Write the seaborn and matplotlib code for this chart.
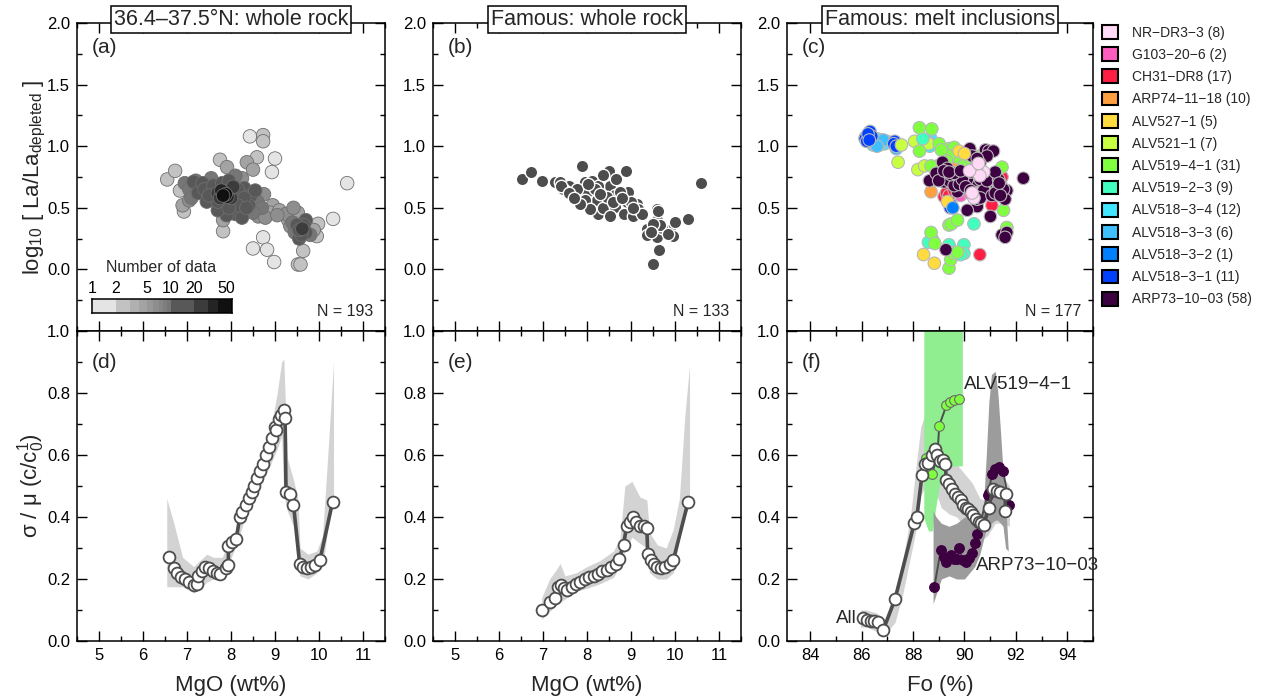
import matplotlib
matplotlib.use("Agg")
import numpy as np
import pandas as pd
import matplotlib.pyplot as plt
import seaborn as sns
from matplotlib.ticker import MultipleLocator, FixedLocator, FixedFormatter, NullFormatter
from matplotlib.patches import Patch
from matplotlib.colors import ListedColormap

# ---------------- (a) 36.4-37.5N whole rock ----------------
a_mgo = [8.43, 9.00, 8.93, 10.64, 10.32, 8.73, 8.50, 8.82, 8.98,
         8.73, 8.73, 7.75, 8.59, 6.55, 6.73, 6.84, 7.82, 9.98, 9.64, 9.52, 9.58, 6.93, 9.95,
         7.91, 8.36, 7.82, 8.50, 6.90, 8.95, 8.90, 9.30, 9.52, 9.88, 9.10,
         8.25, 7.05, 8.75, 8.62, 8.78, 9.25, 9.42, 9.35, 9.05,
         6.95, 7.05, 7.10, 8.10, 8.60, 8.70, 8.50, 9.45, 9.80, 9.40, 7.55, 7.20,
         7.15, 7.25, 7.35, 7.45, 8.30, 8.45, 8.40, 8.10, 7.90, 8.25, 9.60, 9.70, 9.55, 7.70, 8.55,
         7.40, 7.60, 7.80, 7.95, 8.15, 8.30, 8.15, 7.95, 7.70, 7.50, 9.65, 9.50, 9.70, 8.35, 9.60, 9.55,
         7.70, 7.85, 8.00, 7.95, 7.75, 9.62, 8.05,
         7.85, 7.92, 7.78,
         7.88, 7.82]
a_la = [1.08, 0.90, 0.79, 0.70, 0.41, 0.26, 0.17, 0.16, 0.06,
        1.09, 1.04, 0.89, 0.91, 0.73, 0.80, 0.64, 0.31, 0.37, 0.15, 0.04, 0.04, 0.47, 0.27,
        0.83, 0.87, 0.40, 0.81, 0.52, 0.52, 0.46, 0.40, 0.46, 0.32, 0.48,
        0.74, 0.56, 0.61, 0.43, 0.42, 0.45, 0.50, 0.35, 0.44,
        0.70, 0.65, 0.58, 0.76, 0.55, 0.50, 0.46, 0.30, 0.28, 0.38, 0.74, 0.72,
        0.71, 0.62, 0.70, 0.55, 0.66, 0.60, 0.52, 0.45, 0.44, 0.42, 0.34, 0.40, 0.25, 0.48, 0.64,
        0.65, 0.68, 0.70, 0.72, 0.65, 0.58, 0.52, 0.50, 0.55, 0.60, 0.36, 0.36, 0.30, 0.50, 0.28, 0.32,
        0.62, 0.60, 0.58, 0.64, 0.58, 0.33, 0.67,
        0.62, 0.59, 0.64,
        0.61, 0.60]
a_count = [1] * 9 + [2] * 14 + [4] * 11 + [6] * 9 + [9] * 12 + [12] * 15 + [18] * 16 + [25] * 7 + [32] * 3 + [45] * 2

count_bounds = [1, 2, 3, 4, 5, 6, 7, 8, 9, 10, 20, 30, 40, 60]
count_grays = ['#e4e4e4', '#c2c2c2', '#b0b0b0', '#a3a3a3', '#989898', '#8e8e8e', '#868686',
               '#7e7e7e', '#767676', '#585858', '#3c3c3c', '#242424', '#101010']
cbar_ticks = [1, 2, 5, 10, 20, 50]
cbar_minor = [3, 4, 6, 7, 8, 9, 30, 40]

# ---------------- (b) Famous whole rock ----------------
b_mgo = [6.52, 6.73, 6.98, 7.27, 7.39, 7.88, 7.58, 7.54, 7.65, 7.80, 7.95, 7.99, 8.11, 8.22, 8.26,
         8.37, 8.49, 8.52, 8.64, 8.67, 8.64, 8.52, 8.89, 8.94, 8.90, 8.83, 9.05, 9.13, 9.17, 9.24,
         8.26, 7.95, 8.07, 7.77, 7.46, 7.42, 7.83, 8.37, 8.18, 8.45, 8.75, 8.99, 7.60, 7.70, 8.02,
         8.30, 8.58, 8.80, 9.05,
         9.58, 9.58, 9.36, 9.36, 9.55, 9.58, 9.77, 9.89, 9.96, 10.00, 10.30, 9.64, 9.47, 9.51, 9.70,
         9.65, 9.50, 10.59, 9.45, 9.62, 9.85]
b_la = [0.73, 0.79, 0.72, 0.71, 0.71, 0.84, 0.68, 0.63, 0.60, 0.58, 0.71, 0.63, 0.72, 0.56, 0.45,
        0.50, 0.80, 0.68, 0.60, 0.73, 0.51, 0.43, 0.80, 0.63, 0.55, 0.45, 0.43, 0.53, 0.49, 0.45,
        0.68, 0.56, 0.49, 0.65, 0.65, 0.68, 0.53, 0.77, 0.65, 0.59, 0.63, 0.55, 0.62, 0.58, 0.69,
        0.61, 0.55, 0.58, 0.50,
        0.49, 0.40, 0.33, 0.28, 0.32, 0.26, 0.33, 0.32, 0.27, 0.385, 0.41, 0.16, 0.04, 0.04, 0.34,
        0.36, 0.37, 0.70, 0.30, 0.47, 0.29]

# ---------------- (c) Famous melt inclusions ----------------
legend_samples = ["NR−DR3−3", "G103−20−6", "CH31−DR8", "ARP74−11−18", "ALV527−1", "ALV521−1",
                  "ALV519−4−1", "ALV519−2−3", "ALV518−3−4", "ALV518−3−3", "ALV518−3−2",
                  "ALV518−3−1", "ARP73−10−03"]
legend_counts = [8, 2, 17, 10, 5, 7, 31, 9, 12, 6, 1, 11, 58]
legend_colors = ["#ffd9f5", "#ff5cbf", "#ff1f45", "#ffa040", "#ffdb40", "#c8ff40", "#80ff40",
                 "#40ffbf", "#40e6ff", "#40bfff", "#0080ff", "#0040ff", "#3d0040"]

fo_nr = [90.43, 90.75, 90.37, 90.50, 90.60, 90.20, 90.30, 90.55]
la_nr = [0.81, 0.79, 0.58, 0.84, 0.76, 0.80, 0.62, 0.86]
fo_g103 = [89.85, 90.20]
la_g103 = [0.60, 0.62]
fo_ch31 = [89.21, 91.07, 91.46, 90.60, 89.30, 90.90, 91.30, 90.40, 89.40, 91.20, 90.00, 89.60,
           90.70, 91.40, 89.90, 90.20, 91.10]
la_ch31 = [0.59, 0.52, 0.75, 0.12, 0.62, 0.73, 0.72, 0.80, 0.60, 0.78, 0.66, 0.64,
           0.70, 0.70, 0.75, 0.68, 0.62]
fo_arp74 = [88.70, 89.85, 89.98, 89.70, 90.10, 89.90, 90.20, 89.80, 90.00, 89.60]
la_arp74 = [0.63, 0.87, 0.92, 0.90, 0.85, 0.83, 0.90, 0.95, 0.80, 0.86]
fo_alv527 = [89.79, 89.34, 88.41, 88.83, 90.00]
la_alv527 = [0.96, 0.55, 0.12, 0.05, 0.94]
fo_alv521 = [87.55, 87.42, 88.19, 88.06, 88.45, 88.60, 89.00]
la_alv521 = [1.01, 0.87, 0.81, 1.04, 0.84, 1.02, 0.80]
fo_alv5194 = [88.25, 88.73, 88.25, 89.02, 89.40, 89.47, 89.60, 89.73, 88.96, 89.40, 91.46, 88.70,
              88.85, 89.40, 89.50, 89.73, 91.52, 91.65, 89.40, 89.47, 89.60, 89.73, 88.70, 89.20,
              89.30, 90.10, 90.60, 89.98, 89.35, 89.10, 90.25]
la_alv5194 = [1.15, 1.14, 0.96, 1.02, 0.98, 0.95, 0.99, 0.91, 0.84, 0.92, 0.83, 0.30,
              0.21, 0.36, 0.37, 0.40, 0.48, 0.34, 0.01, 0.08, 0.13, 0.14, 0.84, 0.82,
              0.88, 0.73, 0.92, 0.84, 0.75, 0.97, 0.90]
fo_alv5192 = [88.38, 88.76, 89.40, 89.98, 89.98, 89.60, 90.37, 88.60, 89.85]
la_alv5192 = [1.06, 0.24, 0.20, 0.20, 0.13, 0.14, 0.37, 0.22, 0.12]
fo_alv5184 = [86.14, 86.33, 86.52, 86.78, 86.97, 86.60, 86.45, 88.50, 88.70, 86.90, 86.70, 88.65]
la_alv5184 = [1.07, 1.05, 1.03, 1.05, 1.04, 1.06, 1.01, 1.04, 1.06, 1.02, 1.01, 1.00]
fo_alv5183 = [86.20, 86.50, 86.85, 87.35, 88.60, 86.60]
la_alv5183 = [1.04, 1.02, 1.05, 0.98, 1.03, 1.00]
fo_alv5182 = [89.55]
la_alv5182 = [0.50]
fo_alv5181 = [86.33, 86.14, 86.20, 87.29, 87.25, 86.40, 86.25, 87.35, 89.50, 89.45, 86.30]
la_alv5181 = [1.12, 1.06, 1.04, 1.04, 1.02, 1.08, 1.10, 1.00, 0.52, 0.50, 1.05]
fo_arp73 = [90.21, 90.82, 90.95, 92.29, 88.64, 89.08, 89.15, 89.21, 89.40, 89.73,
            90.37, 90.62, 91.26, 91.65, 91.58, 91.01, 90.50, 90.11, 91.46, 91.65,
            89.28, 90.11, 90.50, 90.75, 91.13, 91.33, 91.52, 91.58, 89.73, 89.60,
            89.47, 89.34, 90.24, 91.13, 90.88, 90.40, 90.60, 88.90, 89.00, 89.80,
            89.92, 90.05, 90.24, 90.37, 90.62, 90.88, 91.07, 91.20, 91.33, 91.40,
            90.30, 90.50, 89.60, 89.20, 89.40, 89.85, 91.20, 91.35]
la_arp73 = [0.98, 0.97, 0.96, 0.74, 0.72, 0.79, 0.87, 0.71, 0.72, 0.63,
            0.72, 0.73, 0.68, 0.64, 0.57, 0.43, 0.51, 0.48, 0.28, 0.30,
            0.16, 0.73, 0.57, 0.64, 0.73, 0.67, 0.65, 0.26, 0.72, 0.68,
            0.77, 0.82, 0.79, 0.96, 0.92, 0.82, 0.86, 0.78, 0.72, 0.69,
            0.73, 0.67, 0.64, 0.60, 0.58, 0.72, 0.60, 0.62, 0.73, 0.60,
            0.92, 0.90, 0.78, 0.80, 0.79, 0.80, 0.79, 0.70]

# ---------------- (d) sigma/mu vs MgO, 36.4-37.5N ----------------
d_mgo = [6.58, 6.70, 6.78, 6.86, 6.95, 7.05, 7.15, 7.22, 7.26, 7.33, 7.41, 7.50, 7.58, 7.68, 7.76,
         7.88, 7.94, 7.94, 8.02, 8.12, 8.20, 8.26, 8.33, 8.40, 8.47, 8.53, 8.60, 8.67, 8.73, 8.80,
         8.86, 8.93, 9.00, 9.03, 9.08, 9.14, 9.20, 9.23, 9.25, 9.35, 9.42, 9.56, 9.63, 9.72, 9.82,
         9.92, 10.02, 10.31]
d_cv = [0.27, 0.235, 0.22, 0.205, 0.20, 0.19, 0.18, 0.185, 0.21, 0.225, 0.24, 0.235, 0.225, 0.22, 0.215,
        0.235, 0.245, 0.305, 0.32, 0.33, 0.40, 0.415, 0.44, 0.46, 0.48, 0.50, 0.525, 0.55, 0.57, 0.60,
        0.625, 0.655, 0.69, 0.68, 0.715, 0.73, 0.745, 0.72, 0.48, 0.475, 0.44, 0.25, 0.24, 0.235, 0.24,
        0.245, 0.26, 0.45]
d_band_mgo = [6.54, 6.70, 6.90, 7.15, 7.30, 7.45, 7.60, 7.80, 7.95, 8.15, 8.30, 8.50, 8.70, 8.90,
              9.05, 9.15, 9.20, 9.28, 9.42, 9.52, 9.57, 9.75, 9.95, 10.08, 10.20, 10.33]
d_band_hi = [0.46, 0.38, 0.27, 0.24, 0.26, 0.28, 0.27, 0.27, 0.32, 0.37, 0.46, 0.52, 0.60, 0.68,
             0.80, 0.90, 0.91, 0.59, 0.52, 0.46, 0.30, 0.28, 0.29, 0.34, 0.60, 0.90]
d_band_lo = [0.175, 0.175, 0.175, 0.155, 0.17, 0.19, 0.20, 0.22, 0.25, 0.32, 0.39, 0.45, 0.51, 0.57,
             0.62, 0.66, 0.47, 0.42, 0.37, 0.24, 0.21, 0.20, 0.22, 0.24, 0.36, 0.45]

# ---------------- (e) sigma/mu vs MgO, Famous ----------------
e_mgo = [6.97, 7.15, 7.27, 7.35, 7.40, 7.47, 7.55, 7.65, 7.75, 7.85, 7.95, 8.05, 8.15, 8.25, 8.35,
         8.45, 8.55, 8.65, 8.73, 8.83, 8.90, 8.97, 9.05, 9.12, 9.20, 9.30, 9.36, 9.38, 9.45, 9.52,
         9.60, 9.68, 9.78, 9.88, 9.96, 10.30]
e_cv = [0.10, 0.125, 0.14, 0.175, 0.18, 0.17, 0.165, 0.175, 0.185, 0.19, 0.20, 0.205, 0.21, 0.215, 0.225,
        0.23, 0.24, 0.25, 0.265, 0.31, 0.37, 0.385, 0.40, 0.385, 0.37, 0.37, 0.365, 0.28, 0.26, 0.25,
        0.24, 0.235, 0.24, 0.25, 0.26, 0.45]
e_band_mgo = [6.97, 7.15, 7.30, 7.39, 7.50, 7.75, 8.00, 8.30, 8.60, 8.75, 8.86, 9.02, 9.20, 9.36,
              9.42, 9.60, 9.80, 9.96, 10.10, 10.22, 10.33]
e_band_hi = [0.14, 0.20, 0.23, 0.25, 0.21, 0.22, 0.24, 0.26, 0.29, 0.33, 0.50, 0.515, 0.465, 0.455,
             0.35, 0.31, 0.30, 0.36, 0.46, 0.72, 0.89]
e_band_lo = [0.07, 0.095, 0.115, 0.125, 0.135, 0.16, 0.17, 0.185, 0.205, 0.24, 0.29, 0.335, 0.315, 0.30,
             0.22, 0.20, 0.20, 0.22, 0.33, 0.40, 0.44]

# ---------------- (f) sigma/mu vs Fo, melt inclusions ----------------
f_all_fo = [86.05, 86.20, 86.35, 86.50, 86.65, 86.85, 87.30, 88.05, 88.15, 88.35, 88.45, 88.60,
            88.75, 88.85, 88.95, 89.05, 89.15, 89.25, 89.30, 89.40, 89.50, 89.65, 89.75, 89.85,
            89.95, 90.05, 90.15, 90.25, 90.35, 90.45, 90.55, 90.65, 90.75, 90.95, 91.10, 91.25,
            91.40, 91.60, 91.58]
f_all_cv = [0.075, 0.068, 0.066, 0.064, 0.062, 0.037, 0.135, 0.38, 0.40, 0.535, 0.57, 0.575,
            0.60, 0.62, 0.60, 0.58, 0.585, 0.57, 0.52, 0.505, 0.49, 0.475, 0.465, 0.455,
            0.44, 0.43, 0.425, 0.415, 0.405, 0.395, 0.385, 0.38, 0.375, 0.43, 0.49, 0.485,
            0.48, 0.475, 0.42]
f_all_band_fo = [85.95, 86.20, 86.60, 86.90, 87.30, 87.60, 87.90, 88.10, 88.30, 88.50, 88.80,
                 89.10, 89.40, 89.70, 90.00, 90.30, 90.60, 90.90, 91.20, 91.50, 91.75]
f_all_band_hi = [0.10, 0.10, 0.09, 0.07, 0.16, 0.26, 0.40, 0.55, 0.69, 0.74, 0.70, 0.64, 0.60,
                 0.57, 0.54, 0.51, 0.46, 0.45, 0.52, 0.53, 0.50]
f_all_band_lo = [0.045, 0.045, 0.03, 0.02, 0.06, 0.15, 0.27, 0.35, 0.47, 0.50, 0.50, 0.43, 0.41,
                 0.40, 0.37, 0.34, 0.32, 0.34, 0.38, 0.38, 0.37]

f_alv_fo = [88.50, 88.75, 88.95, 89.02, 89.30, 89.45, 89.60, 89.78]
f_alv_cv = [0.59, 0.54, 0.60, 0.695, 0.76, 0.772, 0.778, 0.78]
f_alv_band_fo = [88.42, 88.45, 88.60, 88.75, 88.90, 89.05, 89.20, 89.40, 89.60, 89.92]
f_alv_band_hi = [1.05, 1.05, 1.05, 1.05, 1.05, 1.05, 1.05, 1.05, 1.05, 1.05]
f_alv_band_lo = [0.40, 0.39, 0.355, 0.355, 0.44, 0.51, 0.54, 0.56, 0.565, 0.565]

f_arp_fo = [88.83, 89.08, 89.20, 89.28, 89.47, 89.60, 89.73, 89.79, 89.95, 90.05, 90.17, 90.30,
            90.43, 90.50, 90.90, 90.94, 91.07, 91.20, 91.33, 91.50, 91.75]
f_arp_cv = [0.175, 0.294, 0.27, 0.256, 0.277, 0.265, 0.263, 0.30, 0.26, 0.256, 0.267, 0.285,
            0.315, 0.345, 0.47, 0.476, 0.54, 0.555, 0.56, 0.55, 0.44]
f_arp_band_fo = [88.78, 88.90, 89.10, 89.40, 89.70, 90.00, 90.20, 90.40, 90.60, 90.75, 90.85,
                 90.95, 91.05, 91.20, 91.30, 91.40, 91.50, 91.60, 91.70]
f_arp_band_hi = [0.42, 0.40, 0.38, 0.37, 0.38, 0.40, 0.40, 0.37, 0.37, 0.45, 0.60, 0.77, 0.86,
                 0.87, 0.80, 0.68, 0.55, 0.45, 0.30]
f_arp_band_lo = [0.12, 0.15, 0.20, 0.21, 0.20, 0.20, 0.22, 0.24, 0.28, 0.33, 0.36, 0.37, 0.38,
                 0.39, 0.39, 0.38, 0.37, 0.30, 0.29]

titles = ["36.4–37.5°N: whole rock", "Famous: whole rock", "Famous: melt inclusions"]
n_labels = ["N = 193", "N = 133", "N = 177"]
panel_letters = ["(a)", "(b)", "(c)", "(d)", "(e)", "(f)"]

# ---------------- style ----------------
sns.set_theme(style="ticks")
plt.rcParams['font.family'] = ['Liberation Sans', 'DejaVu Sans']
plt.rcParams['mathtext.default'] = 'regular'
plt.rcParams['axes.unicode_minus'] = True

W, H = 1261, 700
fig = plt.figure(figsize=(W / 100, H / 100), dpi=100)


def rect(l, t, w, h):
    return [l / W, 1 - (t + h) / H, w / W, h / H]


ax_a = fig.add_axes(rect(77, 23, 308, 308))
ax_b = fig.add_axes(rect(433, 23, 308, 308))
ax_c = fig.add_axes(rect(787, 23, 306, 308))
ax_d = fig.add_axes(rect(77, 331, 308, 310))
ax_e = fig.add_axes(rect(433, 331, 308, 310))
ax_f = fig.add_axes(rect(787, 331, 306, 310))


def style(ax, xmaj, xmin, ymaj, ymin):
    for s in ax.spines.values():
        s.set_linewidth(1.1)
        s.set_color('black')
    ax.xaxis.set_major_locator(MultipleLocator(xmaj))
    ax.xaxis.set_minor_locator(MultipleLocator(xmin))
    ax.yaxis.set_major_locator(MultipleLocator(ymaj))
    ax.yaxis.set_minor_locator(MultipleLocator(ymin))
    ax.tick_params(which='both', direction='in', top=True, right=True, colors='black',
                   labelsize=12, labelcolor='black')
    ax.tick_params(which='major', length=7, width=1.0, pad=5)
    ax.tick_params(which='minor', length=3.5, width=1.0)


# (a)
a_colors = [count_grays[np.searchsorted(count_bounds, c, side='right') - 1] for c in a_count]
df_a = pd.DataFrame({"mgo": a_mgo, "la": a_la, "count": a_count, "col": a_colors})
df_a = df_a.sort_values("count", kind="stable")
sns.scatterplot(data=df_a, x="mgo", y="la", hue="col", palette={c: c for c in count_grays},
                s=95, edgecolor="#6e6e6e", linewidth=0.6, legend=False, ax=ax_a, zorder=3)

# (b)
sns.scatterplot(x=b_mgo, y=b_la, color="#4d4d4d", s=80, edgecolor="white", linewidth=1.0,
                legend=False, ax=ax_b, zorder=3)

# (c) drawing order: underlying samples first, ARP73-10-03 on top of most
c_groups = [
    ("ALV518−3−4", fo_alv5184, la_alv5184), ("ALV518−3−3", fo_alv5183, la_alv5183),
    ("ALV518−3−1", fo_alv5181, la_alv5181), ("ALV521−1", fo_alv521, la_alv521),
    ("ALV519−2−3", fo_alv5192, la_alv5192), ("CH31−DR8", fo_ch31, la_ch31),
    ("ARP74−11−18", fo_arp74, la_arp74), ("G103−20−6", fo_g103, la_g103),
    ("ALV519−4−1", fo_alv5194, la_alv5194), ("ARP73−10−03", fo_arp73, la_arp73),
    ("NR−DR3−3", fo_nr, la_nr), ("ALV527−1", fo_alv527, la_alv527),
    ("ALV518−3−2", fo_alv5182, la_alv5182),
]
df_c = pd.concat([pd.DataFrame({"fo": fo, "la": la, "sample": name}) for name, fo, la in c_groups],
                 ignore_index=True)
pal_c = dict(zip(legend_samples, legend_colors))
sns.scatterplot(data=df_c, x="fo", y="la", hue="sample", palette=pal_c, s=82,
                edgecolor="#b8b8b8", linewidth=0.8, legend=False, ax=ax_c, zorder=3)

# (d), (e) bands and lines
line_kw = dict(sort=False, estimator=None, color="#4d4d4d", linewidth=2.6, marker="o",
               markersize=8.5, markerfacecolor="white", markeredgecolor="#4d4d4d",
               markeredgewidth=1.3)
ax_d.fill_between(d_band_mgo, d_band_lo, d_band_hi, color="#d3d3d3", lw=0, zorder=1)
sns.lineplot(x=d_mgo, y=d_cv, ax=ax_d, zorder=3, **line_kw)
ax_e.fill_between(e_band_mgo, e_band_lo, e_band_hi, color="#d3d3d3", lw=0, zorder=1)
sns.lineplot(x=e_mgo, y=e_cv, ax=ax_e, zorder=3, **line_kw)

# (f)
ax_f.fill_between(f_all_band_fo, f_all_band_lo, f_all_band_hi, color="#d3d3d3", lw=0, zorder=1)
ax_f.fill_between(f_arp_band_fo, f_arp_band_lo, f_arp_band_hi, color="#9c9c9c", lw=0, zorder=1.2)
ax_f.fill_between(f_alv_band_fo, f_alv_band_lo, f_alv_band_hi, color="#90ee90", lw=0, zorder=1.1)
sns.lineplot(x=f_arp_fo, y=f_arp_cv, ax=ax_f, sort=False, estimator=None, color="#4d4d4d",
             linewidth=1.4, marker="o", markersize=7, markerfacecolor=legend_colors[-1],
             markeredgecolor=legend_colors[-1], markeredgewidth=0.8, zorder=2.5)
sns.lineplot(x=f_alv_fo, y=f_alv_cv, ax=ax_f, sort=False, estimator=None, color="#4d4d4d",
             linewidth=1.4, marker="o", markersize=7, markerfacecolor=legend_colors[6],
             markeredgecolor="#6a6a6a", markeredgewidth=0.8, zorder=2.6)
sns.lineplot(x=f_all_fo, y=f_all_cv, ax=ax_f, zorder=3, **line_kw)
ax_f.text(89.97, 0.826, "ALV519−4−1", fontsize=13.5, va="center", ha="left", zorder=5)
ax_f.text(90.43, 0.245, "ARP73−10−03", fontsize=13.5, va="center", ha="left", zorder=5)
ax_f.text(85.82, 0.074, "All", fontsize=13.5, va="center", ha="right", zorder=5)

# axes styling
for ax in (ax_a, ax_b, ax_d, ax_e):
    ax.set_xlim(4.5, 11.5)
ax_c.set_xlim(83.1, 95.0)
ax_f.set_xlim(83.1, 95.0)
for ax in (ax_a, ax_b, ax_c):
    ax.set_ylim(-0.5, 2.0)
for ax in (ax_d, ax_e, ax_f):
    ax.set_ylim(0.0, 1.0)

style(ax_a, 1, 0.5, 0.5, 0.25)
style(ax_b, 1, 0.5, 0.5, 0.25)
style(ax_c, 2, 1, 0.5, 0.25)
style(ax_d, 1, 0.5, 0.2, 0.1)
style(ax_e, 1, 0.5, 0.2, 0.1)
style(ax_f, 2, 1, 0.2, 0.1)
for ax in (ax_a, ax_b, ax_c):
    ax.set_yticks([0.0, 0.5, 1.0, 1.5, 2.0])
    ax.tick_params(labelbottom=False)
    ax.set_xlabel("")
    ax.set_ylabel("")
for ax in (ax_d, ax_e, ax_f):
    ax.set_yticks([0.0, 0.2, 0.4, 0.6, 0.8, 1.0])
    ax.set_ylabel("")

ax_a.set_ylabel(r"log$_{10}$ [ La/La$_{depleted}$ ]", fontsize=16, labelpad=-1)
ax_d.set_ylabel(r"σ / μ (c/c$_0^1$)", fontsize=16, labelpad=0)
ax_d.set_xlabel("MgO (wt%)", fontsize=16, labelpad=9)
ax_e.set_xlabel("MgO (wt%)", fontsize=16, labelpad=9)
ax_f.set_xlabel("Fo (%)", fontsize=16, labelpad=9)

for ax, t, n in zip((ax_a, ax_b, ax_c), titles, n_labels):
    ax.text(0.5, 1.01, t, transform=ax.transAxes, ha="center", va="center", fontsize=15.5,
            bbox=dict(boxstyle="square,pad=0.14", fc="white", ec="black", lw=1.1), zorder=10)
    ax.text(0.962, 0.062, n, transform=ax.transAxes, ha="right", va="center", fontsize=11.5)
for ax, lab in zip((ax_a, ax_b, ax_c), panel_letters[:3]):
    ax.text(0.048, 0.919, lab, transform=ax.transAxes, ha="left", va="center", fontsize=15)
for ax, lab in zip((ax_d, ax_e, ax_f), panel_letters[3:]):
    ax.text(0.048, 0.897, lab, transform=ax.transAxes, ha="left", va="center", fontsize=15)

# colorbar for (a)
cax = fig.add_axes(rect(92, 299, 140, 14))
cax.set_xscale("log")
cax.pcolormesh(count_bounds, [0, 1], np.arange(len(count_grays))[None, :],
               cmap=ListedColormap(count_grays), vmin=-0.5, vmax=len(count_grays) - 0.5,
               shading="flat")
cax.set_xlim(1, 60)
cax.set_ylim(0, 1)
cax.set_yticks([])
cax.xaxis.set_major_locator(FixedLocator(cbar_ticks))
cax.xaxis.set_major_formatter(FixedFormatter([str(v) for v in cbar_ticks]))
cax.xaxis.set_minor_locator(FixedLocator(cbar_minor))
cax.xaxis.set_minor_formatter(NullFormatter())
cax.tick_params(axis="x", which="both", direction="in", top=True, bottom=False, labeltop=True,
                labelbottom=False, labelsize=11.5, pad=2, width=1.0, colors="black")
cax.tick_params(axis="x", which="major", length=5)
cax.tick_params(axis="x", which="minor", length=3)
for s in cax.spines.values():
    s.set_linewidth(1.1)
    s.set_color("black")
fig.text(106 / W, 1 - 268 / H, "Number of data", fontsize=11.5, va="center", ha="left")

# legend
handles = [Patch(facecolor=c, edgecolor="black", linewidth=1.5) for c in legend_colors]
labels = [f"{s} ({n})" for s, n in zip(legend_samples, legend_counts)]
fig.legend(handles, labels, loc="upper left", bbox_to_anchor=(1102 / W, 1 - 25 / H),
           frameon=False, fontsize=10, handlelength=1.15, handleheight=1.15,
           handletextpad=1.0, labelspacing=0.55, borderpad=0, borderaxespad=0)

fig.savefig("out.png", dpi=100)
